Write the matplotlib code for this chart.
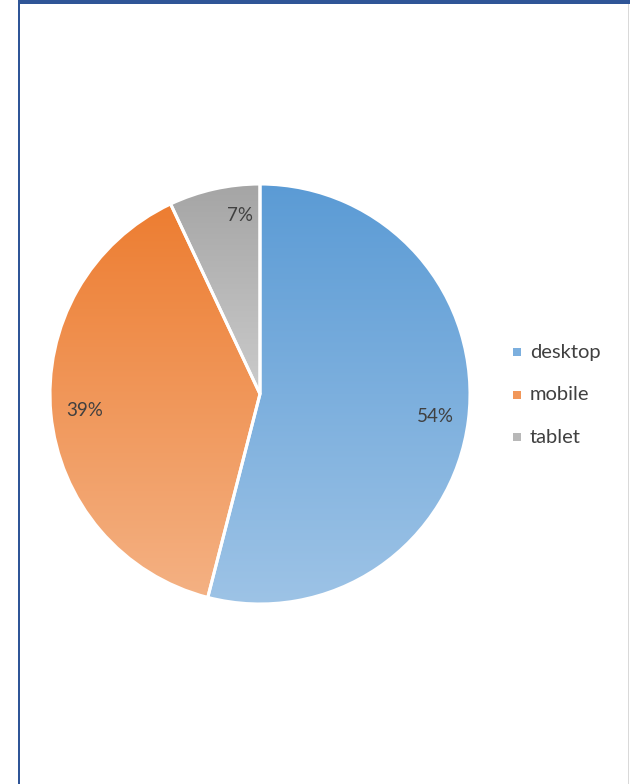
import numpy as np
import matplotlib
matplotlib.use("Agg")
import matplotlib.pyplot as plt
from matplotlib.colors import LinearSegmentedColormap, to_rgb
from matplotlib.patches import Rectangle

labels = ["desktop", "mobile", "tablet"]
shares = [54, 39, 7]
top_colors = ["#5B9BD5", "#ED7D31", "#A5A5A5"]
bottom_colors = ["#9DC3E6", "#F4B183", "#CBCBCB"]

plt.rcParams["font.family"] = ["Lato", "DejaVu Sans"]

W, H = 630, 784
fig = plt.figure(figsize=(W / 100, H / 100), dpi=100)
fig.patch.set_facecolor("white")
ax = fig.add_axes([0, 0, 1, 1])

cx, cy, r = 260, H - 394, 210
wedges, texts, autotexts = ax.pie(
    shares, startangle=90, counterclock=False, center=(cx, cy), radius=r,
    autopct=lambda p: "%d%%" % round(p), pctdistance=0.84,
    wedgeprops=dict(edgecolor="white", linewidth=2.2, facecolor="none"),
    textprops=dict(color="#404040", fontsize=13.5))
ax.set_xlim(0, W)
ax.set_ylim(0, H)
ax.set_aspect("equal")
ax.axis("off")

# gradient fill per slice, over the slice's bounding box
for w, c0, c1 in zip(wedges, top_colors, bottom_colors):
    t = np.radians(np.linspace(w.theta1, w.theta2, 200))
    xs = np.concatenate([[cx], cx + r * np.cos(t)])
    ys = np.concatenate([[cy], cy + r * np.sin(t)])
    cmap = LinearSegmentedColormap.from_list("g", [c0, c1])
    grad = np.linspace(0, 1, 256).reshape(-1, 1)
    im = ax.imshow(grad, cmap=cmap, aspect="auto",
                   extent=[xs.min(), xs.max(), ys.min(), ys.max()],
                   origin="upper", zorder=1)
    im.set_clip_path(w)
    w.set_zorder(2)
for t in autotexts:
    t.set_zorder(3)
# small label sits a bit right/up of the default spot
x7, y7 = autotexts[2].get_position()
autotexts[2].set_position((x7 + 18, y7 + 6))

# legend
for i, (lab, c0, c1) in enumerate(zip(labels, top_colors, bottom_colors)):
    ly = H - (352 + i * 42.5)
    mid = (np.array(to_rgb(c0)) + np.array(to_rgb(c1))) / 2
    ax.add_patch(Rectangle((513, ly - 4), 8, 8, facecolor=mid, edgecolor="none"))
    ax.text(530, ly, lab, color="#404040", fontsize=14.5, va="center", ha="left")

# frame
fig.patches.append(Rectangle((19, H - 4), W - 19, 4, transform=None,
                             facecolor="#2F5597", edgecolor="none"))
fig.patches.append(Rectangle((18, 0), 2, H, transform=None,
                             facecolor="#2F5597", edgecolor="none"))
fig.patches.append(Rectangle((628, 0), 1, H - 4, transform=None,
                             facecolor="#D9D9D9", edgecolor="none"))

fig.savefig("out.png", dpi=100, facecolor="white")
